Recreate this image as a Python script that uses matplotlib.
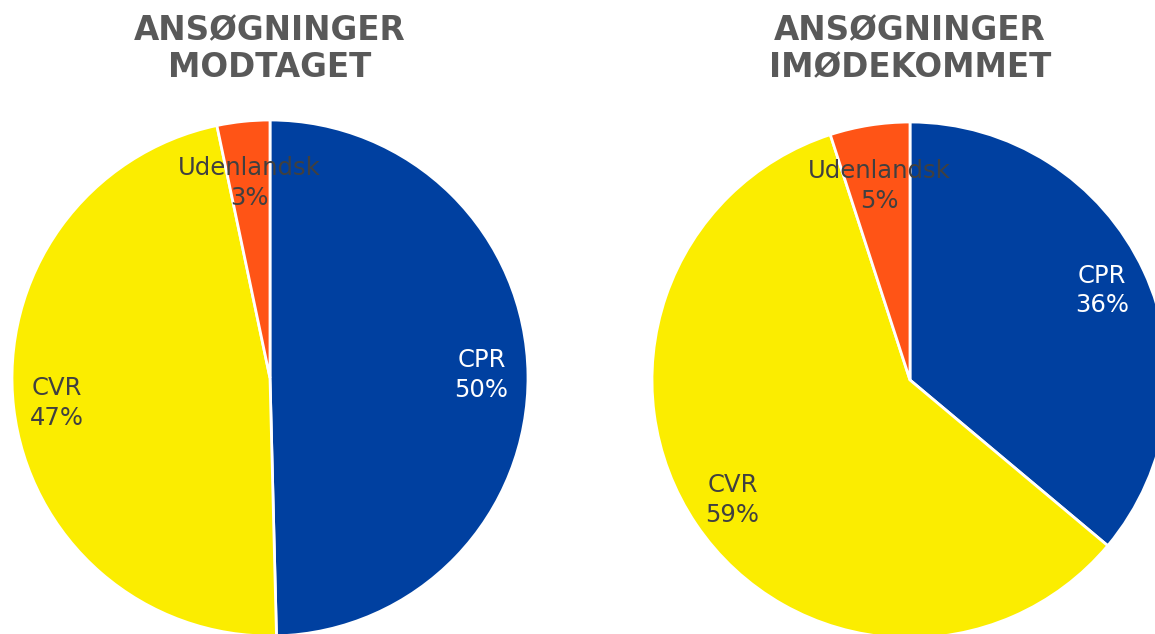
import numpy as np
import matplotlib.pyplot as plt

categories = ['CPR', 'CVR', 'Udenlandsk']
modtaget = [49.6, 47.1, 3.3]
imodekommet = [36.1, 58.9, 5.0]
titles = ['ANSØGNINGER\nMODTAGET', 'ANSØGNINGER\nIMØDEKOMMET']

colors = ['#0040A0', '#FBED00', '#FF5416']
label_colors = ['white', '#404040', '#404040']
label_dist = [0.82, 0.83, 0.76]

W, H = 1155, 634
fig = plt.figure(figsize=(W / 100, H / 100), dpi=100)

R = 258
centers = [(270, 378), (910, 380)]
title_x = [270, 910]

for vals, title, (cx, cy), tx in zip([modtaget, imodekommet], titles, centers, title_x):
    ax = fig.add_axes([(cx - R) / W, (H - cy - R) / H, 2 * R / W, 2 * R / H])
    wedges, _ = ax.pie(vals, colors=colors, startangle=90, counterclock=False, radius=1,
                       wedgeprops=dict(edgecolor='white', linewidth=2))
    for w, c, v, col, d in zip(wedges, categories, vals, label_colors, label_dist):
        mid = np.deg2rad((w.theta1 + w.theta2) / 2)
        ax.text(d * np.cos(mid), d * np.sin(mid), f'{c}\n{round(v):.0f}%',
                ha='center', va='center', fontsize=17.5, color=col, linespacing=1.3)
    ax.set_xlim(-1.0, 1.0)
    ax.set_ylim(-1.0, 1.0)
    ax.set_aspect('equal')
    ax.axis('off')
    fig.text(tx / W, 1 - 49 / H, title, ha='center', va='center', fontsize=23.5,
             fontweight='bold', color='#595959', linespacing=1.15)

fig.savefig('out.png', dpi=100)
